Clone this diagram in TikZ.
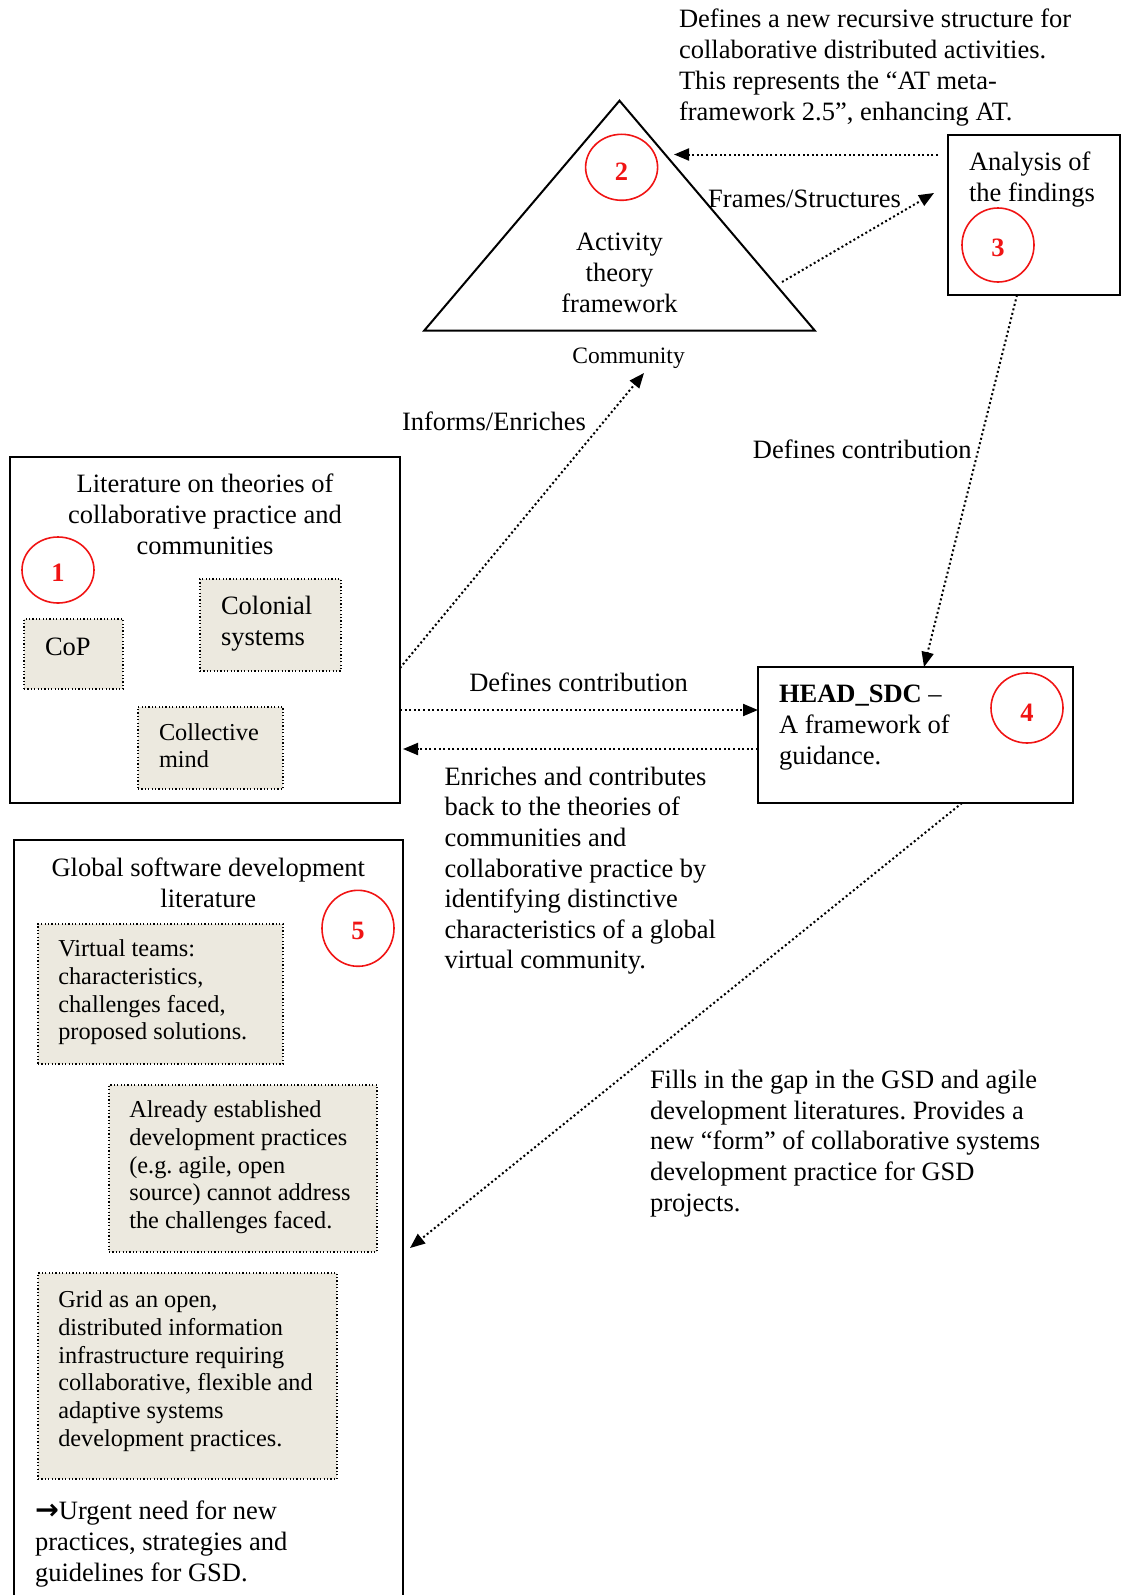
\documentclass[tikz,border=0pt]{standalone}
\usepackage{fontspec}
\setmainfont{Liberation Serif}
\newfontfamily\arrowfont{DejaVu Sans}
\usetikzlibrary{arrows.meta,shapes.geometric}
\definecolor{notefill}{RGB}{236,233,223}
\definecolor{numred}{RGB}{240,20,20}
\begin{document}
\frenchspacing
\begin{tikzpicture}[x=1pt,y=-1pt,
  txt/.style={inner sep=0pt, outer sep=0pt, font=\fontsize{26.5}{31}\selectfont, align=left, anchor=north west},
  txtsmall/.style={inner sep=0pt, outer sep=0pt, font=\fontsize{24.3}{27.7}\selectfont, align=left, anchor=north west},
  frame/.style={draw, line width=2pt, inner sep=0pt, outer sep=0pt, anchor=north west},
  note/.style={draw, fill=notefill, line width=1.2pt, dash pattern=on 1.2pt off 2.2pt, inner sep=0pt, outer sep=0pt, anchor=north west},
  numring/.style={ellipse, draw=numred, line width=1.6pt, inner sep=0pt},
  numtext/.style={inner sep=0pt, text=numred, font=\fontsize{26.5}{31}\selectfont\bfseries},
  flow/.style={line width=2pt, dash pattern=on 2pt off 2.6pt, -{Triangle[length=15pt,width=12pt]}}
]
\useasboundingbox (0,0) rectangle (1122,1595);

% ---------- activity theory triangle ----------
\coordinate (apex) at (619.5,100.7);
\coordinate (baseL) at (424.2,330.6);
\coordinate (baseR) at (814.8,330.6);
\draw[line width=2pt, line join=miter] (apex) -- (baseL) -- (baseR) -- cycle;
\node[txt, anchor=north, align=center] (act) at (619.5,233) {Activity\\theory\\framework};
\node[inner sep=0pt, font=\fontsize{23.5}{27}\selectfont, anchor=base] (community) at (628.6,363) {Community};
\node[numring, minimum width=72pt, minimum height=66pt] (c2) at (621.6,167.3) {};
\node[numtext] at ([yshift=-4pt]c2.center) {2};

\node[txt] (topnote) at (679,9.2) {Defines a new recursive structure for\\collaborative distributed activities.\\This represents the “AT meta-\\framework 2.5”, enhancing AT.};

% ---------- analysis box ----------
\node[frame, minimum width=172pt, minimum height=160pt] (b3) at (948,135) {};
\node[txt] (analysis) at (969,151.6) {Analysis of\\the findings};
\node[numring, minimum width=72pt, minimum height=74pt] (c3) at (998,245) {};
\node[numtext] at ([yshift=-3pt]c3.center) {3};

% ---------- literature box ----------
\node[frame, minimum width=390pt, minimum height=346pt] (b1) at (10,457) {};
\node[txt, anchor=north, align=center] (littitle) at (205,474.2) {Literature on theories of\\collaborative practice and\\communities};
\node[numring, minimum width=72pt, minimum height=66pt] (c1) at (58,570) {};
\node[numtext] at ([yshift=-3pt]c1.center) {1};
\node[note, minimum width=99pt, minimum height=70pt] (cop) at (24,619) {};
\node[txt] at (45,637.5) {CoP};
\node[note, minimum width=141pt, minimum height=92pt] (colonial) at (200,579) {};
\node[txt] at (221,596.6) {Colonial\\systems};
\node[note, minimum width=145pt, minimum height=82pt] (collective) at (138,707) {};
\node[txtsmall] at (159,723.4) {Collective\\mind};

% ---------- HEAD_SDC box ----------
\node[frame, minimum width=315pt, minimum height=136pt] (b4) at (758,667) {};
\node[txt] (head) at (779,684.6) {\textbf{HEAD\_SDC} –\\A framework of\\guidance.};
\node[numring, minimum width=72pt, minimum height=70pt] (c4) at (1027,708) {};
\node[numtext] at ([yshift=-5pt]c4.center) {4};

% ---------- GSD literature box ----------
\node[frame, minimum width=389pt, minimum height=780pt] (b5) at (14,840) {};
\node[txt, anchor=north, align=center] (gsdtitle) at (208.3,857.6) {Global software development\\literature};
\node[numring, minimum width=72pt, minimum height=76pt] (c5) at (358,928.3) {};
\node[numtext] at ([yshift=-3pt]c5.center) {5};
\node[note, minimum width=245pt, minimum height=140pt] (virtual) at (38,924) {};
\node[txtsmall] at (58.3,940) {Virtual teams:\\characteristics,\\challenges faced,\\proposed solutions.};
\node[note, minimum width=268pt, minimum height=167pt] (already) at (109,1085) {};
\node[txtsmall] at (129.3,1101) {Already established\\development practices\\(e.g. agile, open\\source) cannot address\\the challenges faced.};
\node[note, minimum width=299pt, minimum height=206pt] (grid) at (38,1273) {};
\node[txtsmall] at (58.3,1291) {Grid as an open,\\distributed information\\infrastructure requiring\\collaborative, flexible and\\adaptive systems\\development practices.};
\node[txt] (urgent) at (35,1501) {{\arrowfont\bfseries\fontsize{28.5}{31}\selectfont →}Urgent need for new\\practices, strategies and\\guidelines for GSD.};

% ---------- connector labels ----------
\node[inner sep=0pt, font=\fontsize{26.5}{31}\selectfont, anchor=base west] (lblframes) at (708,207.4) {Frames/Structures};
\node[inner sep=0pt, font=\fontsize{26.5}{31}\selectfont, anchor=base west] (lblinforms) at (401.8,430) {Informs/Enriches};
\node[inner sep=0pt, font=\fontsize{26.5}{31}\selectfont, anchor=base west] (lbldefup) at (752.7,458.6) {Defines contribution};
\node[inner sep=0pt, font=\fontsize{26.5}{31}\selectfont, anchor=base] (lbldefmid) at (578.6,691) {Defines contribution};
\node[txt, font=\fontsize{26.5}{30.6}\selectfont] (lblenrich) at (444.5,767) {Enriches and contributes\\back to the theories of\\communities and\\collaborative practice by\\identifying distinctive\\characteristics of a global\\virtual community.};
\node[txt, font=\fontsize{26.5}{30.7}\selectfont] (lblfills) at (650,1070) {Fills in the gap in the GSD and agile\\development literatures. Provides a\\new “form” of collaborative systems\\development practice for GSD\\projects.};

% ---------- connectors ----------
\coordinate (atEdge) at (674,154.5);
\coordinate (atOut) at (782,282);
\coordinate (frHead) at (934,193);
\coordinate (commTip) at (644,373);
\coordinate (gsdTip) at (410,1248);
\draw[flow] ([xshift=-10pt]b3.west |- 0,154.5) -- (atEdge);
\draw[flow] (atOut) -- (frHead);
\draw[flow] (b3.south -| 1017,0) -- (b4.north -| 924,0);
\draw[flow] (b1.east |- 0,668) -- (commTip);
\draw[flow] (b1.east |- 0,710) -- (b4.west |- 0,710);
\draw[flow] (b4.west |- 0,749) -- ([xshift=3pt]b1.east |- 0,749);
\draw[flow] (b4.south -| 962,0) -- (gsdTip);
\end{tikzpicture}
\end{document}
